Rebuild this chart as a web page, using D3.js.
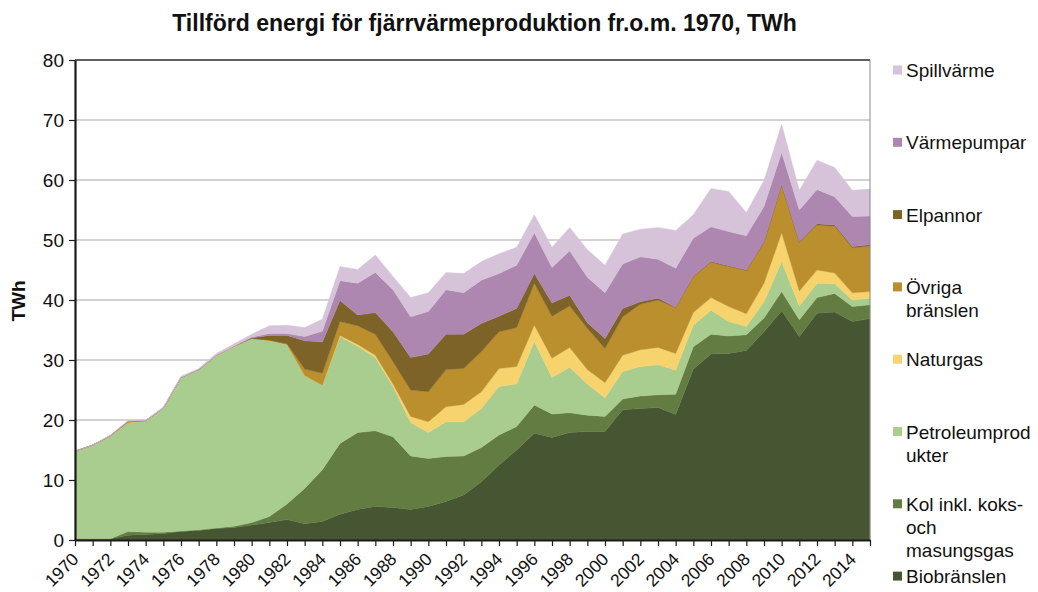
<!DOCTYPE html>
<html>
<head>
<meta charset="utf-8">
<script src="https://cdn.jsdelivr.net/npm/d3@7"></script>
<style>
  html, body { margin: 0; padding: 0; background: #fff; }
  svg { display: block; font-family: "Liberation Sans", Arial, sans-serif; }
</style>
</head>
<body>
<svg id="chart" width="1038" height="592"></svg>
<script>
// ---- DATA ----
const years = d3.range(1970, 2016);
const yTicks = [0, 10, 20, 30, 40, 50, 60, 70, 80];
const xLabelYears = d3.range(1970, 2015, 2);

const biobranslen = [0.2,0.2,0.2,0.8,0.9,1.1,1.4,1.6,1.9,2.1, 2.5,2.9,3.4,2.7,3.1,4.3,5.1,5.6,5.4,5.1, 5.6,6.4,7.5,9.7,12.5,15.0,17.8,17.1,17.9,18.1, 18.1,21.7,21.9,22.1,20.9,28.5,31.0,31.1,31.6,34.7, 38.2,33.9,37.8,38.0,36.4,36.9];
const kol = [0,0,0,0.6,0.4,0.2,0.1,0.1,0.1,0.2, 0.4,1.0,2.6,5.9,8.6,11.8,12.8,12.6,11.8,8.9, 8.0,7.5,6.5,5.7,5.0,3.9,4.7,3.9,3.3,2.7, 2.5,1.8,2.1,2.1,3.4,3.7,3.3,2.9,2.6,2.3, 3.2,2.8,2.6,3.1,2.5,2.3];
const petroleum = [14.6,15.6,17.1,18.2,18.6,20.7,25.6,26.7,28.8,30.0, 30.7,29.4,26.6,18.8,14.1,17.8,14.4,12.2,8.4,5.6, 4.3,5.8,5.7,6.5,8.1,7.1,10.6,6.1,7.6,5.2, 3.1,4.6,4.9,5.0,4.0,3.6,4.0,2.4,1.4,2.7, 5.0,2.3,2.4,1.6,1.1,1.1];
const naturgas = [0,0,0,0,0,0,0,0,0,0, 0,0,0,0,0,0.2,0.3,0.4,0.4,1.0, 1.8,2.5,2.9,2.8,3.0,2.9,2.7,3.2,3.3,2.4, 2.5,2.7,2.8,2.9,2.8,2.1,2.1,2.5,2.1,3.1, 4.8,2.5,2.2,1.8,1.2,1.1];
const ovriga = [0,0,0.1,0.1,0,0,0,0,0,0, 0,0,0.1,1.1,2.0,2.3,3.1,3.5,3.7,4.4, 5.0,6.2,6.0,6.7,6.1,6.5,7.0,7.0,6.9,6.9, 5.7,6.4,7.6,7.9,7.6,6.0,5.9,6.7,7.2,6.8, 7.9,8.1,7.5,7.8,7.5,7.6];
const elpannor = [0,0,0,0.1,0,0,0,0,0,0, 0.1,0.8,1.4,4.7,5.2,3.5,1.8,3.6,5.0,5.4, 6.3,5.9,5.7,4.7,2.6,3.2,1.6,2.2,1.8,0.9, 1.7,1.4,0.4,0.3,0.1,0.1,0.1,0.1,0.1,0.1, 0.1,0.1,0.2,0.2,0.2,0.2];
const varmepumpar = [0,0,0,0,0,0,0,0,0,0, 0.1,0.3,0.3,0.7,1.8,3.3,5.3,6.7,7.0,6.8, 7.1,7.4,6.9,7.2,7.1,7.2,6.8,5.9,7.4,7.6, 7.6,7.4,7.5,6.5,6.5,6.3,5.8,5.7,5.7,5.9, 5.4,5.3,5.7,4.7,5.0,4.8];
const spillvarme = [0,0,0.1,0.1,0.1,0.2,0.2,0.2,0.3,0.4, 0.5,1.3,1.4,1.5,2.0,2.4,2.3,2.9,2.2,3.2, 3.1,2.9,3.2,3.1,3.3,3.0,3.0,3.4,3.9,4.6, 4.6,5.0,4.6,5.3,6.3,3.9,6.4,6.7,3.9,4.3, 4.7,3.3,4.9,4.9,4.4,4.5];

// stacking order bottom -> top
const seriesKeys = ["bio", "kol", "pet", "ng", "ovr", "elp", "vp", "spill"];
const seriesValues = { bio: biobranslen, kol: kol, pet: petroleum, ng: naturgas, ovr: ovriga, elp: elpannor, vp: varmepumpar, spill: spillvarme };
const seriesLabels = {
  spill: ["Spillvärme"],
  vp: ["Värmepumpar"],
  elp: ["Elpannor"],
  ovr: ["Övriga", "bränslen"],
  ng: ["Naturgas"],
  pet: ["Petroleumprod", "ukter"],
  kol: ["Kol inkl. koks-", "och", "masungsgas"],
  bio: ["Biobränslen"]
};
const colors = { bio: "#465532", kol: "#627c42", pet: "#a9cc8f", ng: "#f7d36d", ovr: "#bc8f2e", elp: "#7d6328", vp: "#ad87b0", spill: "#d6c2d9" };
const legendOrder = ["spill", "vp", "elp", "ovr", "ng", "pet", "kol", "bio"];

// ---- LAYOUT ----
const plot = { left: 75, right: 870, top: 60, bottom: 540 };
const svg = d3.select("#chart");

const table = years.map((yr, i) => {
  const row = { year: yr };
  seriesKeys.forEach(k => row[k] = seriesValues[k][i]);
  return row;
});

const x = d3.scalePoint().domain(years).range([plot.left, plot.right]);
const y = d3.scaleLinear().domain([0, 80]).range([plot.bottom, plot.top]);

// gridlines
svg.append("g").selectAll("line")
  .data(yTicks.filter(v => v > 0 && v < 80))
  .join("line")
  .attr("x1", plot.left).attr("x2", plot.right)
  .attr("y1", d => y(d)).attr("y2", d => y(d))
  .attr("stroke", "#c4c4c4").attr("stroke-width", 1.5);

// stacked areas
const stack = d3.stack().keys(seriesKeys);
const layers = stack(table);
const area = d3.area()
  .x(d => x(d.data.year))
  .y0(d => y(d[0]))
  .y1(d => y(d[1]));

svg.append("g").selectAll("path")
  .data(layers)
  .join("path")
  .attr("d", area)
  .attr("fill", d => colors[d.key])
  .attr("stroke", d => colors[d.key])
  .attr("stroke-width", 0.4);

// plot frame: top and right
svg.append("line").attr("x1", plot.left).attr("x2", plot.right)
  .attr("y1", y(80)).attr("y2", y(80)).attr("stroke", "#2a2a2a").attr("stroke-width", 1.5);
svg.append("line").attr("x1", plot.right).attr("x2", plot.right)
  .attr("y1", y(80)).attr("y2", y(0)).attr("stroke", "#8c8c8c").attr("stroke-width", 1);

// y axis
const yAxis = svg.append("g")
  .attr("transform", `translate(${plot.left},0)`)
  .call(d3.axisLeft(y).tickValues(yTicks).tickSize(6).tickPadding(5).tickSizeOuter(0));
yAxis.select(".domain").attr("stroke", "#1a1a1a").attr("stroke-width", 2.2);
yAxis.selectAll(".tick line").attr("stroke", "#1a1a1a").attr("stroke-width", 1.2);
yAxis.selectAll(".tick text").attr("font-size", 19).attr("fill", "#111")
  .attr("font-family", "'Liberation Sans', Arial, sans-serif");

// x axis
const xAxis = svg.append("g")
  .attr("transform", `translate(0,${plot.bottom})`)
  .call(d3.axisBottom(x).tickSize(6).tickSizeOuter(0)
    .tickFormat(d => xLabelYears.includes(d) ? String(d) : ""));
xAxis.select(".domain").attr("stroke", "#1a1a1a").attr("stroke-width", 2.2);
xAxis.selectAll(".tick line").attr("stroke", "#1a1a1a").attr("stroke-width", 1.2);
xAxis.selectAll(".tick text")
  .attr("font-size", 17.5).attr("fill", "#111")
  .attr("font-family", "'Liberation Sans', Arial, sans-serif")
  .attr("text-anchor", "end")
  .attr("dy", null)
  .attr("y", null)
  .attr("dominant-baseline", "central")
  .attr("transform", "translate(0,16) rotate(-45)");

// title
const title = svg.append("text")
  .attr("x", 484.5).attr("y", 31)
  .attr("text-anchor", "middle")
  .attr("font-weight", "bold")
  .attr("font-size", 20)
  .attr("fill", "#111")
  .text("Tillförd energi för fjärrvärmeproduktion fr.o.m. 1970, TWh");
const tl = title.node().getComputedTextLength();
title.attr("font-size", 20 * 625 / tl);

// y axis title
svg.append("text")
  .attr("transform", "translate(25,301) rotate(-90)")
  .attr("text-anchor", "middle")
  .attr("font-weight", "bold")
  .attr("font-size", 19)
  .attr("fill", "#111")
  .text("TWh");

// legend
const legend = svg.append("g");
legendOrder.forEach((k, i) => {
  const cy = 70 + i * 72.3;
  legend.append("rect")
    .attr("x", 893).attr("y", cy - 4.5).attr("width", 9).attr("height", 9)
    .attr("fill", colors[k]);
  const t = legend.append("text")
    .attr("x", 906).attr("y", cy)
    .attr("font-size", 19).attr("fill", "#111")
    .attr("dominant-baseline", "central");
  seriesLabels[k].forEach((line, j) => {
    t.append("tspan").attr("x", 906).attr("y", cy + j * 23).attr("dominant-baseline", "central").text(line);
  });
});
</script>
</body>
</html>
